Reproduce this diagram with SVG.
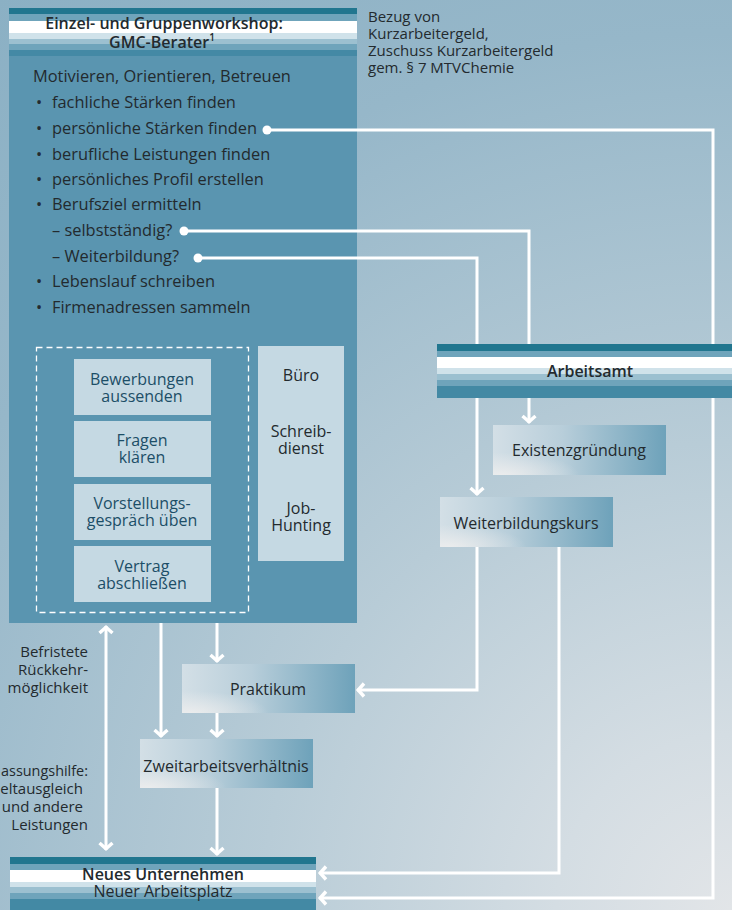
<svg xmlns="http://www.w3.org/2000/svg" width="732" height="910" viewBox="0 0 732 910">
<defs>
<style>
.t{font-family:"Open Sans","Noto Sans","Liberation Sans",sans-serif;fill:#232a2e;font-size:16px}
.sm{font-size:15px}
.li{font-size:16.4px}
.b{font-weight:600}
.bx{fill:#1c4e67;text-anchor:middle;font-size:16px}
.m{text-anchor:middle}
.e{text-anchor:end}
.ln{fill:none;stroke:#fff;stroke-width:3}
.ar{marker-end:url(#ah)}
.lb{fill:#c5d9e3}
.gb{fill:url(#boxLin)}
.gg{fill:url(#boxGlow)}
</style>
<radialGradient id="bg" gradientUnits="userSpaceOnUse" cx="732" cy="910" r="1170">
<stop offset="0" stop-color="#e2e5e8"/>
<stop offset="0.15" stop-color="#d4dde3"/>
<stop offset="0.4" stop-color="#b8ccd7"/>
<stop offset="0.75" stop-color="#96b7c9"/>
<stop offset="1" stop-color="#8bb0c4"/>
</radialGradient>
<linearGradient id="boxLin" x1="0" y1="0" x2="1" y2="0">
<stop offset="0" stop-color="#d3dfe6"/>
<stop offset="0.4" stop-color="#b8ceda"/>
<stop offset="1" stop-color="#6ea2ba"/>
</linearGradient>
<radialGradient id="boxGlow" cx="0.05" cy="1" r="0.45">
<stop offset="0" stop-color="#eeeeee" stop-opacity="0.9"/>
<stop offset="1" stop-color="#eeeeee" stop-opacity="0"/>
</radialGradient>
<marker id="ah" markerUnits="userSpaceOnUse" viewBox="-10 -8 12 16" markerWidth="12" markerHeight="16" refX="0" refY="0" orient="auto-start-reverse">
<path d="M-7,-6.5 L-1.2,0 L-7,6.5" fill="none" stroke="#fff" stroke-width="3.4"/>
</marker>
</defs>

<rect width="732" height="910" fill="url(#bg)"/>

<g id="workshop">
<rect x="9" y="8" width="348" height="615" fill="#5a95b0"/>
<rect x="9" y="8" width="348" height="6" fill="#21768f"/>
<rect x="9" y="14" width="348" height="7" fill="#6fa4bb"/>
<rect x="9" y="21" width="348" height="12" fill="#ffffff"/>
<rect x="9" y="33" width="348" height="6" fill="#d0e2ea"/>
<rect x="9" y="39" width="348" height="5" fill="#9cc0d0"/>
<rect x="9" y="44" width="348" height="6" fill="#6fa4bb"/>
<rect x="9" y="50" width="348" height="6" fill="#4489a5"/>
<text class="t b m" x="164" y="29">Einzel- und Gruppenworkshop:</text>
<text class="t b m" x="162" y="48">GMC-Berater<tspan font-size="10" dy="-7">1</tspan></text>
<text class="t li" x="33" y="82">Motivieren, Orientieren, Betreuen</text>
<text class="t li m" x="39" y="108">•</text><text class="t li" x="52" y="108">fachliche Stärken finden</text>
<text class="t li m" x="39" y="134">•</text><text class="t li" x="52" y="134">persönliche Stärken finden</text>
<text class="t li m" x="39" y="160">•</text><text class="t li" x="52" y="160">berufliche Leistungen finden</text>
<text class="t li m" x="39" y="185">•</text><text class="t li" x="52" y="185">persönliches Profil erstellen</text>
<text class="t li m" x="39" y="210">•</text><text class="t li" x="52" y="210">Berufsziel ermitteln</text>
<text class="t li" x="52" y="236">– selbstständig?</text>
<text class="t li" x="52" y="262">– Weiterbildung?</text>
<text class="t li m" x="39" y="287">•</text><text class="t li" x="52" y="287">Lebenslauf schreiben</text>
<text class="t li m" x="39" y="313">•</text><text class="t li" x="52" y="313">Firmenadressen sammeln</text>
<rect x="36.5" y="347.5" width="212" height="265" fill="none" stroke="#fff" stroke-width="1.3" stroke-dasharray="6,4"/>
</g>

<g id="bewerbungen">
<rect class="lb" x="74" y="359" width="137" height="56"/>
<text class="t bx" x="142" y="385">Bewerbungen</text>
<text class="t bx" x="142" y="402">aussenden</text>
</g>
<g id="fragen">
<rect class="lb" x="74" y="421" width="137" height="56"/>
<text class="t bx" x="142" y="446">Fragen</text>
<text class="t bx" x="142" y="463">klären</text>
</g>
<g id="vorstellung">
<rect class="lb" x="74" y="484" width="137" height="56"/>
<text class="t bx" x="142" y="509">Vorstellungs-</text>
<text class="t bx" x="142" y="526">gespräch üben</text>
</g>
<g id="vertrag">
<rect class="lb" x="74" y="546" width="137" height="56"/>
<text class="t bx" x="142" y="572">Vertrag</text>
<text class="t bx" x="142" y="589">abschließen</text>
</g>
<g id="buero">
<rect class="lb" x="258" y="346" width="86" height="215"/>
<text class="t m" x="301" y="381">Büro</text>
<text class="t m" x="301" y="437">Schreib-</text>
<text class="t m" x="301" y="454">dienst</text>
<text class="t m" x="301" y="514">Job-</text>
<text class="t m" x="301" y="531">Hunting</text>
</g>

<g id="kurzarbeit">
<text class="t sm" x="368" y="22">Bezug von</text>
<text class="t sm" x="368" y="39">Kurzarbeitergeld,</text>
<text class="t sm" x="368" y="56">Zuschuss Kurzarbeitergeld</text>
<text class="t sm" x="368" y="73">gem. § 7 MTVChemie</text>
</g>

<g id="links-labels">
<text class="t sm e" x="88" y="657">Befristete</text>
<text class="t sm e" x="88" y="675">Rückkehr-</text>
<text class="t sm e" x="88" y="693">möglichkeit</text>
<text class="t sm" x="1" y="776" textLength="87" lengthAdjust="spacingAndGlyphs">assungshilfe:</text>
<text class="t sm e" x="83" y="794">eltausgleich</text>
<text class="t sm e" x="83" y="812">und andere</text>
<text class="t sm e" x="88" y="830">Leistungen</text>
</g>

<g id="connectors">
<path class="ln ar" d="M267,130 H713 V898 H319"/>
<path class="ln ar" d="M184,231 H529 V423"/>
<path class="ln ar" d="M198,258 H477 V495"/>
<path class="ln ar" d="M477,547 V690 H357"/>
<path class="ln ar" d="M559,547 V873 H319"/>
<path class="ln ar" d="M217,623 V662"/>
<path class="ln ar" d="M161,623 V737"/>
<path class="ln ar" d="M217,713 V737"/>
<path class="ln ar" d="M217,788 V855"/>
<path class="ln ar" d="M106,626 V850" marker-start="url(#ah)"/>
<circle cx="267" cy="130" r="4.5" fill="#fff"/>
<circle cx="184" cy="231" r="4.5" fill="#fff"/>
<circle cx="198" cy="258" r="4.5" fill="#fff"/>
</g>

<g id="arbeitsamt">
<rect x="437" y="344" width="295" height="7" fill="#21768f"/>
<rect x="437" y="351" width="295" height="6" fill="#6fa4bb"/>
<rect x="437" y="357" width="295" height="11" fill="#ffffff"/>
<rect x="437" y="368" width="295" height="6" fill="#d0e2ea"/>
<rect x="437" y="374" width="295" height="6" fill="#9cc0d0"/>
<rect x="437" y="380" width="295" height="6" fill="#6fa4bb"/>
<rect x="437" y="386" width="295" height="12" fill="#4389a4"/>
<text class="t b m" x="590" y="377">Arbeitsamt</text>
</g>

<g id="existenz">
<rect class="gb" x="493" y="425" width="173" height="50"/>
<rect class="gg" x="493" y="425" width="173" height="50"/>
<text class="t m" x="579" y="456">Existenzgründung</text>
</g>
<g id="weiterbildung">
<rect class="gb" x="440" y="497" width="173" height="50"/>
<rect class="gg" x="440" y="497" width="173" height="50"/>
<text class="t m" x="526" y="529">Weiterbildungskurs</text>
</g>
<g id="praktikum">
<rect class="gb" x="182" y="664" width="173" height="49"/>
<rect class="gg" x="182" y="664" width="173" height="49"/>
<text class="t m" x="268" y="695">Praktikum</text>
</g>
<g id="zweitarbeit">
<rect class="gb" x="140" y="739" width="173" height="49"/>
<rect class="gg" x="140" y="739" width="173" height="49"/>
<text class="t m" x="226" y="772">Zweitarbeitsverhältnis</text>
</g>

<g id="neues-unternehmen">
<rect x="10" y="857" width="306" height="7" fill="#21768f"/>
<rect x="10" y="864" width="306" height="6" fill="#6fa4bb"/>
<rect x="10" y="870" width="306" height="12" fill="#ffffff"/>
<rect x="10" y="882" width="306" height="5" fill="#d0e2ea"/>
<rect x="10" y="887" width="306" height="6" fill="#9cc0d0"/>
<rect x="10" y="893" width="306" height="6" fill="#6fa4bb"/>
<rect x="10" y="899" width="306" height="11" fill="#4389a4"/>
<text class="t b m" x="163" y="880">Neues Unternehmen</text>
<text class="t m" x="163" y="897">Neuer Arbeitsplatz</text>
</g>
</svg>
